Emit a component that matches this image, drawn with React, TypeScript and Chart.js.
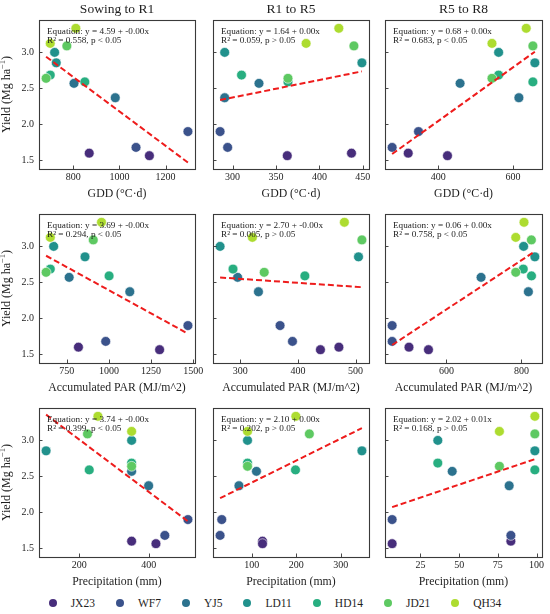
import React, { useEffect, useRef } from 'react';
import { Chart, registerables } from 'chart.js';

Chart.register(...registerables);

// ---------- data ----------
const genotypes = ['JX23', 'WF7', 'YJ5', 'LD11', 'HD14', 'JD21', 'QH34'];
const colors = ['#472d7b', '#3b528b', '#2c728e', '#21918c', '#28ae80', '#5ec962', '#addc30'];

// two observations per genotype (A, B)
const yieldA = [1.6, 1.9, 2.57, 3.0, 2.685, 3.09, 3.335];
const yieldB = [1.565, 1.68, 2.37, 2.855, 2.59, 2.64, 3.125];

// GDD (°C·d)
const gddSowR1A = [869, 1297, 803, 719, 700, 772, 811];
const gddSowR1B = [1130, 1072, 982, 726, 850, 682, 700];
const gddR1R5A = [437, 285.6, 330.4, 290.9, 310.3, 439.8, 422.4];
const gddR1R5B = [363, 294.3, 290.9, 449, 363.8, 363.8, 384.7];
const gddR5R8A = [320, 347.5, 458.7, 561.8, 561.8, 653.4, 635.6];
const gddR5R8B = [425, 277, 616, 658.7, 653.4, 544, 544];

// Accumulated PAR (MJ/m^2)
const parSowR1A = [819, 1469, 764, 672, 652, 907, 956];
const parSowR1B = [1301, 981, 1124, 858, 1001, 627, 652];
const parR1R5A = [471, 369, 295.4, 265, 287.4, 510.9, 480.5];
const parR1R5B = [439, 390.5, 331.5, 505, 412, 341.5, 321];
const parR5R8A = [500, 455, 692.4, 806, 805, 826.7, 807];
const parR5R8B = [552, 455, 818.7, 836, 827, 785, 785];

// Precipitation (mm)
const preSowR1A = [351, 513, 351, 351, 351, 224, 254];
const preSowR1B = [421, 446.6, 400, 104.8, 229, 351, 351];
const preR1R5A = [124, 32.3, 110.4, 90.3, 90.3, 229.4, 199];
const preR1R5B = [124, 28.6, 71, 347.6, 198.2, 90.3, 90.3];
const preR5R8A = [83.4, 6.7, 45.5, 36.2, 36.2, 98.9, 98.9];
const preR5R8B = [6.7, 83.4, 82.3, 98.9, 98.9, 76, 76];

// fitted line values at the smallest and largest x of each panel
const trendStart = [2.94, 2.338, 1.588, 2.87, 2.568, 1.63, 3.358, 2.197, 2.073];
const trendEnd = [1.47, 2.736, 3.009, 1.788, 2.433, 2.93, 1.876, 3.17, 2.739];

const equationText = [
  'Equation: y = 4.59 + -0.00x',
  'Equation: y = 1.64 + 0.00x',
  'Equation: y = 0.68 + 0.00x',
  'Equation: y = 3.69 + -0.00x',
  'Equation: y = 2.70 + -0.00x',
  'Equation: y = 0.06 + 0.00x',
  'Equation: y = 3.74 + -0.00x',
  'Equation: y = 2.10 + 0.00x',
  'Equation: y = 2.02 + 0.01x',
];
const statText = [
  'R² = 0.558, p < 0.05',
  'R² = 0.059, p > 0.05',
  'R² = 0.683, p < 0.05',
  'R² = 0.294, p < 0.05',
  'R² = 0.005, p > 0.05',
  'R² = 0.758, p < 0.05',
  'R² = 0.399, p < 0.05',
  'R² = 0.202, p > 0.05',
  'R² = 0.168, p > 0.05',
];

const columnTitles = ['Sowing to R1', 'R1 to R5', 'R5 to R8'];
const rowXTitles = ['GDD (°C·d)', 'Accumulated PAR (MJ/m^2)', 'Precipitation (mm)'];

const xTickValues = [
  [800, 1000, 1200],
  [300, 350, 400, 450],
  [400, 600],
  [750, 1000, 1250, 1500],
  [300, 400, 500],
  [600, 800],
  [200, 400],
  [100, 200, 300],
  [25, 50, 75, 100],
];
const yTickValues = [1.5, 2.0, 2.5, 3.0];
const yLimits = [1.38, 3.45];

const panelXA = [gddSowR1A, gddR1R5A, gddR5R8A, parSowR1A, parR1R5A, parR5R8A, preSowR1A, preR1R5A, preR5R8A];
const panelXB = [gddSowR1B, gddR1R5B, gddR5R8B, parSowR1B, parR1R5B, parR5R8B, preSowR1B, preR1R5B, preR5R8B];

// ---------- layout ----------
const colLeft = [39, 213, 385];
const colRight = [195, 369, 542];
const rowTop = [20, 214, 408];
const plotH = 149;
const padLeft = 40;
const padTop = 20;
const padRight = 12;
const padBottom = 36;

const SERIF = '"Liberation Serif", "Times New Roman", serif';
const INK = '#1e1e1e';

function makeDecor(idx: number) {
  const row = Math.floor(idx / 3);
  const col = idx % 3;
  return {
    id: 'decor' + idx,
    afterDraw(chart: any) {
      const { ctx, chartArea: a, scales } = chart;
      ctx.save();
      // inward ticks
      ctx.strokeStyle = '#333';
      ctx.lineWidth = 0.9;
      ctx.beginPath();
      for (const v of xTickValues[idx]) {
        const x = Math.round(scales.x.getPixelForValue(v)) + 0.5;
        ctx.moveTo(x, a.bottom);
        ctx.lineTo(x, a.bottom - 3.5);
      }
      for (const v of yTickValues) {
        const y = Math.round(scales.y.getPixelForValue(v)) + 0.5;
        ctx.moveTo(a.left, y);
        ctx.lineTo(a.left + 3.5, y);
      }
      ctx.stroke();
      // frame
      ctx.strokeStyle = '#3a3a3a';
      ctx.lineWidth = 1.1;
      ctx.strokeRect(Math.round(a.left) + 0.5, Math.round(a.top) + 0.5, Math.round(a.right - a.left), Math.round(a.bottom - a.top));
      // equation text
      ctx.fillStyle = INK;
      ctx.textAlign = 'left';
      ctx.textBaseline = 'middle';
      ctx.font = '9.2px ' + SERIF;
      ctx.fillText(equationText[idx], a.left + 8, a.top + 11.7);
      ctx.fillText(statText[idx], a.left + 8, a.top + 20.7);
      // column title
      const cx = (a.left + a.right) / 2;
      if (row === 0) {
        ctx.textAlign = 'center';
        ctx.font = '13.5px ' + SERIF;
        ctx.fillText(columnTitles[col], cx, a.top - 11);
      }
      // x title
      ctx.textAlign = 'center';
      ctx.font = '11.8px ' + SERIF;
      ctx.fillText(rowXTitles[row], cx, a.bottom + 24.5);
      // y title
      if (col === 0) {
        ctx.save();
        ctx.translate(a.left - 32, (a.top + a.bottom) / 2);
        ctx.rotate(-Math.PI / 2);
        ctx.textAlign = 'left';
        const f1 = '12px ' + SERIF;
        const f2 = '8.5px ' + SERIF;
        const t1 = 'Yield (Mg ha';
        const t2 = '−1';
        const t3 = ')';
        ctx.font = f1;
        const w1 = ctx.measureText(t1).width;
        const w3 = ctx.measureText(t3).width;
        ctx.font = f2;
        const w2 = ctx.measureText(t2).width;
        const s = -(w1 + w2 + w3) / 2;
        ctx.font = f1;
        ctx.fillText(t1, s, 0);
        ctx.font = f2;
        ctx.fillText(t2, s + w1, -4);
        ctx.font = f1;
        ctx.fillText(t3, s + w1 + w2, 0);
        ctx.restore();
      }
      ctx.restore();
    },
  };
}

function buildConfig(idx: number): any {
  const col = idx % 3;
  const xa = panelXA[idx];
  const xb = panelXB[idx];
  const all = xa.concat(xb);
  const xMin = Math.min(...all);
  const xMax = Math.max(...all);
  const span = xMax - xMin;
  const datasets: any[] = [
    {
      type: 'line',
      data: [
        { x: xMin, y: trendStart[idx] },
        { x: xMax, y: trendEnd[idx] },
      ],
      borderColor: '#ee1c1c',
      borderWidth: 2,
      borderDash: [6, 3],
      pointRadius: 0,
      fill: false,
      order: 0,
    },
  ];
  genotypes.forEach((g, i) => {
    datasets.push({
      type: 'scatter',
      label: g,
      data: [
        { x: xa[i], y: yieldA[i] },
        { x: xb[i], y: yieldB[i] },
      ],
      backgroundColor: colors[i],
      borderColor: '#ffffff',
      borderWidth: 0.6,
      pointRadius: 4.9,
      order: 7 - i + 1,
    });
  });
  const tickFont = { family: SERIF, size: 10 };
  return {
    type: 'scatter',
    data: { datasets },
    options: {
      responsive: false,
      animation: false,
      events: [],
      layout: { padding: { left: 0, top: padTop, right: padRight, bottom: 0 }, autoPadding: false },
      plugins: { legend: { display: false }, tooltip: { enabled: false }, title: { display: false } },
      scales: {
        x: {
          type: 'linear',
          min: xMin - 0.05 * span,
          max: xMax + 0.05 * span,
          grid: { display: false, drawTicks: false, tickLength: 0 },
          border: { display: false },
          ticks: {
            font: tickFont,
            color: INK,
            padding: 2,
            maxRotation: 0,
            autoSkip: false,
            callback: (v: any) => String(v),
          },
          afterBuildTicks: (s: any) => {
            s.ticks = xTickValues[idx].map((v) => ({ value: v }));
          },
          afterFit: (s: any) => {
            s.height = padBottom;
            s.paddingLeft = 0;
            s.paddingRight = 0;
          },
        },
        y: {
          type: 'linear',
          min: yLimits[0],
          max: yLimits[1],
          grid: { display: false, drawTicks: false, tickLength: 0 },
          border: { display: false },
          ticks: {
            display: col === 0,
            font: tickFont,
            color: INK,
            padding: 5,
            callback: (v: any) => Number(v).toFixed(1),
          },
          afterBuildTicks: (s: any) => {
            s.ticks = yTickValues.map((v) => ({ value: v }));
          },
          afterFit: (s: any) => {
            s.width = padLeft;
            s.paddingTop = 0;
            s.paddingBottom = 0;
          },
        },
      },
    },
    plugins: [makeDecor(idx)],
  };
}

export default function App() {
  const refs = useRef<(HTMLCanvasElement | null)[]>([]);

  useEffect(() => {
    const charts: Chart[] = [];
    for (let i = 0; i < 9; i++) {
      const c = refs.current[i];
      if (c) charts.push(new Chart(c, buildConfig(i)));
    }
    return () => charts.forEach((ch) => ch.destroy());
  }, []);

  const canvases = [];
  for (let i = 0; i < 9; i++) {
    const row = Math.floor(i / 3);
    const col = i % 3;
    const w = colRight[col] - colLeft[col] + padLeft + padRight;
    const h = plotH + padTop + padBottom;
    canvases.push(
      <canvas
        key={i}
        ref={(el) => {
          refs.current[i] = el;
        }}
        width={w}
        height={h}
        style={{
          position: 'absolute',
          left: colLeft[col] - padLeft,
          top: rowTop[row] - padTop,
          width: w,
          height: h,
        }}
      />
    );
  }

  return (
    <div
      style={{
        position: 'absolute',
        left: 0,
        top: 0,
        width: 550,
        height: 614,
        background: '#ffffff',
        overflow: 'hidden',
        fontFamily: SERIF,
      }}
    >
      {canvases}
      <div
        style={{
          position: 'absolute',
          left: 0,
          top: 595,
          width: 550,
          height: 16,
          display: 'flex',
          justifyContent: 'center',
          alignItems: 'center',
          fontSize: 11.5,
          color: INK,
        }}
      >
        {genotypes.map((g, i) => (
          <div key={g} style={{ display: 'flex', alignItems: 'center', marginRight: i < genotypes.length - 1 ? 21 : 0 }}>
            <span
              style={{
                display: 'inline-block',
                width: 8,
                height: 8,
                borderRadius: '50%',
                background: colors[i],
                marginRight: 14,
              }}
            />
            <span>{g}</span>
          </div>
        ))}
      </div>
    </div>
  );
}
